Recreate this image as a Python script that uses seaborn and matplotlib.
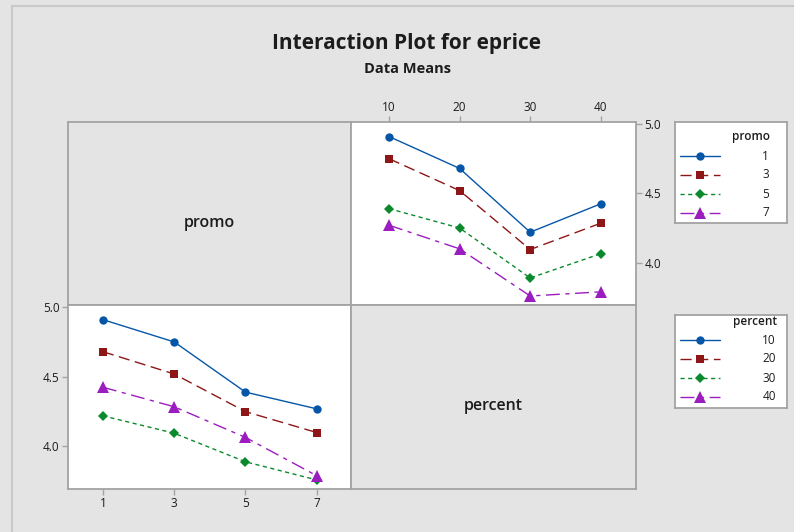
import numpy as np
import pandas as pd
import matplotlib
matplotlib.use("Agg")
import matplotlib.pyplot as plt
import seaborn as sns
from matplotlib.patches import Rectangle

# Data (cell means)
promo_levels = [1, 3, 5, 7]
percent_levels = [10, 20, 30, 40]
# rows: promo level, values across percent 10, 20, 30, 40
eprice_promo1 = [4.91, 4.68, 4.22, 4.425]
eprice_promo3 = [4.75, 4.52, 4.095, 4.285]
eprice_promo5 = [4.39, 4.25, 3.89, 4.065]
eprice_promo7 = [4.27, 4.10, 3.76, 3.79]

y_ticks = [4.0, 4.5, 5.0]

# Style config
W, H = 794, 532
BG = "#e4e4e4"
FRAME = "#a3a3a3"
TXT = "#1c1c1c"
colors = ["#0656a8", "#8e1616", "#0a8a2c", "#9b1cbf"]
markers = ["o", "s", "D", "^"]
msizes = [6.0, 5.6, 5.6, 8.0]
dash_list = [(1, 0), (8, 4), (3, 2.5), (10, 4, 3, 4)]
FONT = ["Open Sans", "DejaVu Sans"]

sns.set_theme(style="white")
plt.rcParams["font.family"] = FONT


def px(x0, y0, x1, y1):
    return [x0 / W, 1 - y1 / H, (x1 - x0) / W, (y1 - y0) / H]


rows = []
for p, vals in zip(promo_levels, [eprice_promo1, eprice_promo3, eprice_promo5, eprice_promo7]):
    for pc, v in zip(percent_levels, vals):
        rows.append({"promo": p, "percent": pc, "eprice": v})
df = pd.DataFrame(rows)

fig = plt.figure(figsize=(W / 100, H / 100), dpi=100, facecolor=BG)
fig.patches.append(Rectangle((12 / W, 1 - 800 / H), 900 / W, 794 / H, transform=fig.transFigure,
                             facecolor="none", edgecolor="#c9c9c9", lw=1.5))

fig.text(407 / W, 1 - 43 / H, "Interaction Plot for eprice", ha="center", va="center",
         fontsize=15, fontweight="bold", color=TXT)
fig.text(408 / W, 1 - 69 / H, "Data Means", ha="center", va="center",
         fontsize=10.5, fontweight="bold", color=TXT)


def frame(ax, face):
    ax.set_facecolor(face)
    for s in ax.spines.values():
        s.set_color(FRAME)
        s.set_linewidth(1.3)


ax_tl = fig.add_axes(px(68, 122, 351, 305))
ax_tr = fig.add_axes(px(351, 122, 636, 305))
ax_bl = fig.add_axes(px(68, 305, 351, 489))
ax_br = fig.add_axes(px(351, 305, 636, 489))

for ax, lab in [(ax_tl, "promo"), (ax_br, "percent")]:
    frame(ax, BG)
    ax.set_xticks([])
    ax.set_yticks([])
    ax.text(0.5, 0.45, lab, transform=ax.transAxes, ha="center", va="center",
            fontsize=11.5, fontweight="semibold", color=TXT)


def panel(ax, x, hue, levels):
    frame(ax, "white")
    pal = dict(zip(levels, colors))
    mk = dict(zip(levels, markers))
    ds = dict(zip(levels, dash_list))
    sns.lineplot(data=df, x=x, y="eprice", hue=hue, style=hue, hue_order=levels, style_order=levels,
                 palette=pal, markers=mk, dashes=ds, linewidth=1.0, markeredgewidth=0,
                 legend=False, ax=ax)
    for line, ms in zip(ax.lines, msizes):
        line.set_markersize(ms)
    ax.set_ylim(3.695, 5.015)
    ax.set_yticks(y_ticks)
    ax.set_yticklabels([f"{t:.1f}" for t in y_ticks])
    ax.set_xlabel("")
    ax.set_ylabel("")
    ax.tick_params(length=4, width=1, color=FRAME, labelcolor=TXT, labelsize=8.5, pad=2)


panel(ax_tr, "percent", "promo", promo_levels)
ax_tr.set_xlim(4.6, 45.0)
ax_tr.set_xticks(percent_levels)
ax_tr.xaxis.tick_top()
ax_tr.yaxis.tick_right()
ax_tr.tick_params(bottom=False, left=False, top=True, right=True)

panel(ax_bl, "promo", "percent", percent_levels)
ax_bl.set_xlim(0.02, 7.96)
ax_bl.set_xticks(promo_levels)
ax_bl.tick_params(bottom=True, left=True)


def legend_box(box, title, labels, title_y, row_ys, right):
    x0, y0, x1, y1 = box
    lg = fig.add_axes(px(x0, y0, x1, y1))
    lg.set_facecolor("white")
    for s in lg.spines.values():
        s.set_color(FRAME)
        s.set_linewidth(1.3)
    lg.set_xlim(0, x1 - x0)
    lg.set_ylim(y1 - y0, 0)
    lg.set_xticks([])
    lg.set_yticks([])
    lg.text(right + 1, title_y, title, ha="right", va="center", fontsize=8.5,
            fontweight="semibold", color=TXT)
    for lab, yy, c, m, ms, d in zip(labels, row_ys, colors, markers, msizes, dash_list):
        ln, = lg.plot([5, 25, 45], [yy, yy, yy], color=c, lw=1.0, marker=m, markersize=ms,
                      markeredgewidth=0, markevery=[1])
        if d != (1, 0):
            ln.set_dashes(d)
        lg.text(right, yy, str(lab), ha="right", va="center", fontsize=8.5, color=TXT)


legend_box((675, 122, 787, 223), "promo", promo_levels, 14.5, [34, 52.7, 72, 91], 94)
legend_box((675, 315, 787, 408), "percent", percent_levels, 7, [25, 43.7, 63, 82], 101)

fig.savefig("out.png", dpi=100, facecolor=BG)
